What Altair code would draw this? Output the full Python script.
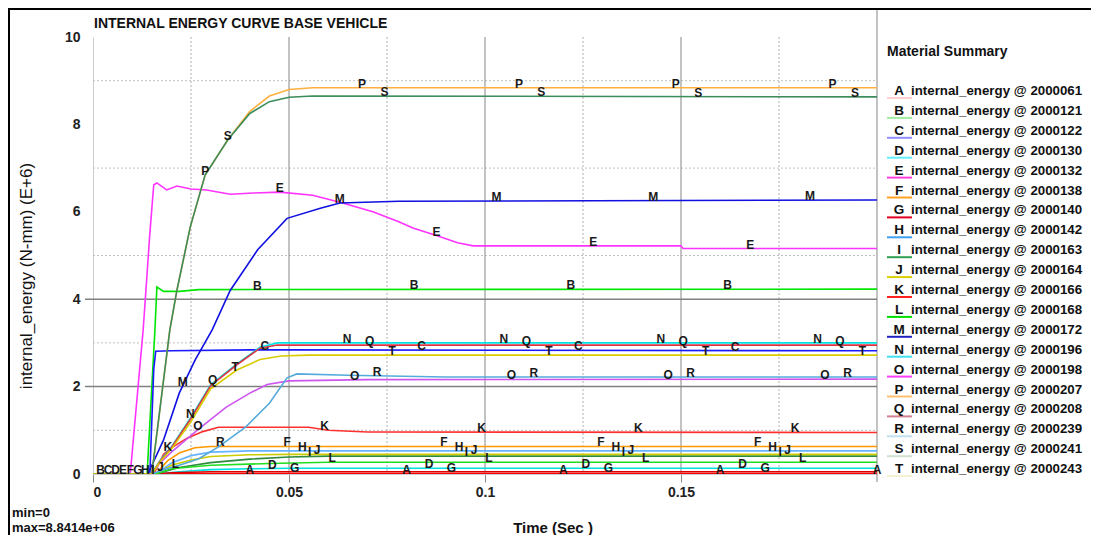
import altair as alt
import numpy as np
import pandas as pd

FONT = "Liberation Sans"

LETTERS = list("ABCDEFGHIJKLMNOPQRST")
PART_IDS = ["2000061", "2000121", "2000122", "2000130", "2000132", "2000138",
            "2000140", "2000142", "2000163", "2000164", "2000166", "2000168",
            "2000172", "2000196", "2000198", "2000207", "2000208", "2000239",
            "2000241", "2000243"]
LINE_COLORS = ["#ff0000", "#00e600", "#1a1aff", "#00e0e0", "#ff33ff", "#ff9900",
               "#dd0000", "#66b3ff", "#2e8b3e", "#cccc00", "#ff3030", "#22dd22",
               "#1010e0", "#00e5e5", "#cc55ee", "#ffb040", "#dd3344", "#55aadd",
               "#3c8c5c", "#d8cc00"]
LEGEND_COLORS = ["#ffd0d0", "#a0f0a0", "#9090ff", "#60f0ff", "#ff40e0", "#ffa020",
                 "#e00020", "#40a0f0", "#30a050", "#d8d000", "#ff2020", "#00e000",
                 "#2020c0", "#40e0f0", "#ff40ff", "#ffc070", "#d08090", "#c0e0f0",
                 "#d0e0d0", "#f4f0d0"]

# time (s) and internal energy (E+6 N-mm)
T_A = [0, 0.0155, 0.02, 0.2]
V_A = [0, 0, 0.01, 0.01]
T_B = [0, 0.0138, 0.0158, 0.0163, 0.018, 0.022, 0.027, 0.2]
V_B = [0, 0, 3.3, 4.28, 4.18, 4.18, 4.22, 4.23]
T_C = [0, 0.0145, 0.0155, 0.016, 0.02, 0.04, 0.05, 0.2]
V_C = [0, 0, 2.4, 2.81, 2.82, 2.84, 2.84, 2.82]
T_D = [0, 0.016, 0.022, 0.03, 0.04, 0.05, 0.2]
V_D = [0, 0, 0.05, 0.1, 0.12, 0.13, 0.13]
T_E = [0, 0.0095, 0.0128, 0.0145, 0.0155, 0.0163, 0.0188, 0.0214, 0.025, 0.029,
       0.035, 0.041, 0.0477, 0.056, 0.063, 0.0714, 0.078, 0.0816, 0.0878, 0.093,
       0.097, 0.15, 0.1505, 0.2]
V_E = [0, 0, 3.3, 5.5, 6.62, 6.66, 6.5, 6.59, 6.52, 6.5, 6.4, 6.43, 6.45, 6.38,
       6.22, 6.0, 5.77, 5.63, 5.45, 5.29, 5.22, 5.22, 5.16, 5.16]
T_F = [0, 0.016, 0.019, 0.022, 0.026, 0.03, 0.2]
V_F = [0, 0, 0.3, 0.48, 0.6, 0.63, 0.63]
T_G = [0, 0.0155, 0.02, 0.03, 0.2]
V_G = [0, 0, 0.03, 0.05, 0.05]
T_H = [0, 0.016, 0.02, 0.025, 0.03, 0.04, 0.2]
V_H = [0, 0, 0.25, 0.42, 0.5, 0.53, 0.53]
T_I = [0, 0.016, 0.022, 0.03, 0.04, 0.05, 0.06, 0.2]
V_I = [0, 0, 0.15, 0.26, 0.34, 0.39, 0.41, 0.41]
T_J = [0, 0.016, 0.02, 0.025, 0.03, 0.04, 0.05, 0.2]
V_J = [0, 0, 0.2, 0.32, 0.4, 0.44, 0.45, 0.45]
T_K = [0, 0.0155, 0.018, 0.02, 0.024, 0.028, 0.032, 0.055, 0.06, 0.07, 0.2]
V_K = [0, 0, 0.45, 0.6, 0.82, 0.97, 1.07, 1.07, 1.0, 0.96, 0.95]
T_L = [0, 0.016, 0.02, 0.03, 0.045, 0.06, 0.2]
V_L = [0, 0, 0.12, 0.2, 0.24, 0.27, 0.27]
T_M = [0, 0.014, 0.018, 0.022, 0.026, 0.0304, 0.035, 0.042, 0.0495, 0.058,
       0.063, 0.078, 0.2]
V_M = [0, 0, 0.78, 1.85, 2.6, 3.3, 4.2, 5.13, 5.85, 6.08, 6.2, 6.24, 6.27]
T_N = [0, 0.015, 0.017, 0.02, 0.025, 0.03, 0.0367, 0.0426, 0.047, 0.2]
V_N = [0, 0, 0.3, 0.62, 1.3, 2.04, 2.52, 2.9, 3.0, 3.0]
T_O = [0, 0.015, 0.017, 0.02, 0.027, 0.034, 0.04, 0.0444, 0.05, 0.07, 0.2]
V_O = [0, 0, 0.25, 0.5, 1.03, 1.53, 1.85, 2.05, 2.13, 2.16, 2.17]
T_P = [0, 0.015, 0.0196, 0.0214, 0.0248, 0.0286, 0.0344, 0.04, 0.045, 0.05,
       0.056, 0.2]
V_P = [0, 0, 3.3, 4.2, 5.65, 6.84, 7.65, 8.3, 8.65, 8.8, 8.84, 8.84]
T_Q = [0, 0.015, 0.017, 0.02, 0.025, 0.03, 0.0367, 0.0426, 0.047, 0.2]
V_Q = [0, 0, 0.28, 0.6, 1.27, 2.02, 2.5, 2.88, 2.95, 2.95]
T_R = [0, 0.015, 0.018, 0.022, 0.027, 0.032, 0.039, 0.045, 0.0495, 0.052,
       0.065, 0.09, 0.2]
V_R = [0, 0, 0.1, 0.2, 0.35, 0.62, 1.08, 1.62, 2.2, 2.29, 2.26, 2.22, 2.22]
T_S = [0, 0.015, 0.0196, 0.0214, 0.0248, 0.0286, 0.0344, 0.04, 0.045, 0.05,
       0.056, 0.2]
V_S = [0, 0, 3.3, 4.2, 5.65, 6.84, 7.65, 8.25, 8.52, 8.62, 8.65, 8.63]
T_T = [0, 0.015, 0.017, 0.02, 0.025, 0.03, 0.0367, 0.0426, 0.048, 0.055, 0.2]
V_T = [0, 0, 0.27, 0.57, 1.2, 1.95, 2.38, 2.62, 2.7, 2.72, 2.72]

SERIES = [
    ("A", T_A, V_A), ("B", T_B, V_B), ("C", T_C, V_C), ("D", T_D, V_D),
    ("E", T_E, V_E), ("F", T_F, V_F), ("G", T_G, V_G), ("H", T_H, V_H),
    ("I", T_I, V_I), ("J", T_J, V_J), ("K", T_K, V_K), ("L", T_L, V_L),
    ("M", T_M, V_M), ("N", T_N, V_N), ("O", T_O, V_O), ("P", T_P, V_P),
    ("Q", T_Q, V_Q), ("R", T_R, V_R), ("S", T_S, V_S), ("T", T_T, V_T),
]

# curve-letter placement along each curve (every 0.04 s, shifted per curve)
LABEL_STEP = 0.04
LABEL_SHIFT = 0.00191

X_TICKS = [0, 0.05, 0.1, 0.15]
Y_TICKS = [0, 2, 4, 6, 8, 10]
GRID_X_MAJOR = [0.05, 0.1, 0.15]
GRID_X_MINOR = [0.025, 0.075, 0.125, 0.175]
GRID_Y_MAJOR = [2, 4]
GRID_Y_MINOR = [1, 3, 5, 7, 9]
X_MAX = 0.2

W, H = 784, 437

rows = []
for i, (lt, ts, vs) in enumerate(SERIES):
    for t, v in zip(ts, vs):
        rows.append({"letter": lt, "t": t, "v": v, "ord": i})
df_lines = pd.DataFrame(rows)

lab_rows = []
for i, (lt, ts, vs) in enumerate(SERIES):
    for k in range(6):
        t = LABEL_STEP * k + LABEL_SHIFT * i
        if 0 < t <= X_MAX + 1e-9:
            lab_rows.append({"letter": lt, "t": t, "v": float(np.interp(t, ts, vs))})
df_labels = pd.DataFrame(lab_rows)

X_AX = alt.Axis(values=X_TICKS, format="~g", title=None, grid=False,
                labelFont=FONT, labelFontSize=14, labelFontWeight="bold",
                labelColor="#222222", tickSize=8, tickColor="#8a8a8a",
                labelPadding=3, domainColor="#cccccc")
Y_AX = alt.Axis(values=Y_TICKS, format="d", title=None, grid=False,
                labelFont=FONT, labelFontSize=14, labelFontWeight="bold",
                labelColor="#222222", tickSize=8, tickColor="rgba(0,0,0,0)",
                labelPadding=5, domainColor="#cccccc")
X_ENC = alt.X("t:Q", scale=alt.Scale(domain=[0, X_MAX], nice=False, zero=False), axis=X_AX)
Y_ENC = alt.Y("v:Q", scale=alt.Scale(domain=[0, 10], nice=False), axis=Y_AX)

lines = alt.Chart(df_lines).mark_line(strokeWidth=1.6, clip=True).encode(
    x=X_ENC, y=Y_ENC,
    color=alt.Color("letter:N", scale=alt.Scale(domain=LETTERS, range=LINE_COLORS), legend=None),
    detail="letter:N",
)

gx_major = alt.Chart(pd.DataFrame({"t": GRID_X_MAJOR})).mark_rule(
    color="#9a9a9a", strokeWidth=1.2).encode(x=X_ENC, y=alt.value(0), y2=alt.value(H))
gx_minor = alt.Chart(pd.DataFrame({"t": GRID_X_MINOR})).mark_rule(
    color="#b0b0b0", strokeWidth=1, strokeDash=[2, 2]).encode(x=X_ENC, y=alt.value(0), y2=alt.value(H))
gx_right = alt.Chart(pd.DataFrame({"t": [X_MAX]})).mark_rule(
    color="#9a9a9a", strokeWidth=1.2).encode(x=X_ENC, y=alt.value(-29), y2=alt.value(H + 8))
gy_major = alt.Chart(pd.DataFrame({"v": GRID_Y_MAJOR})).mark_rule(
    color="#808080", strokeWidth=1.5).encode(y=Y_ENC, x=alt.value(-8), x2=alt.value(W))
gy_minor = alt.Chart(pd.DataFrame({"v": GRID_Y_MINOR})).mark_rule(
    color="#c0c0c0", strokeWidth=1, strokeDash=[2, 2]).encode(y=Y_ENC, x=alt.value(0), x2=alt.value(W))

labels = alt.Chart(df_labels).mark_text(
    font=FONT, fontSize=12, fontWeight="bold", color="#1a1a1a",
    baseline="alphabetic", align="center").encode(x=X_ENC, y=Y_ENC, text="letter:N")

one = pd.DataFrame({"a": [0]})
border_left = alt.Chart(one).mark_rule(color="#000000", strokeWidth=2).encode(
    x=alt.value(-84), y=alt.value(-29), y2=alt.value(H + 61))
border_top = alt.Chart(one).mark_rule(color="#000000", strokeWidth=2).encode(
    y=alt.value(-28), x=alt.value(-85), x2=alt.value(W + 214))


def text_layer(s, x, y, size=14, weight="bold", align="left", angle=0, baseline="middle"):
    kw = dict(font=FONT, fontSize=size, fontWeight=weight, color="#111111",
              align=align, baseline=baseline)
    if angle:
        kw["angle"] = angle
    return alt.Chart(pd.DataFrame({"s": [s]})).mark_text(**kw).encode(
        x=alt.value(x), y=alt.value(y), text="s:N")


title = text_layer("INTERNAL ENERGY CURVE BASE VEHICLE", 1, -13)
ytitle = text_layer("internal_energy (N-mm) (E+6)", -66, 239, size=17, weight="normal",
                    align="center", angle=270)
xtitle = text_layer("Time (Sec )", 460, 491, size=15, align="center")
min_txt = text_layer("min=0", -81, 480, size=13, baseline="alphabetic")
max_txt = text_layer("max=8.8414e+06", -81, 494.5, size=13, baseline="alphabetic")
leg_title = text_layer("Material Summary", 794, 15)

ROW0, ROW_STEP = 54, 19.9
leg = pd.DataFrame({
    "letter": LETTERS,
    "txt": ["internal_energy @ " + p for p in PART_IDS],
    "ucol": LEGEND_COLORS,
})
leg["ly"] = ROW0 + ROW_STEP * np.arange(len(LETTERS))
leg["uy"] = leg["ly"] + 7
leg["lx"] = 806
leg["tx"] = 818
leg["ux0"] = 794
leg["ux1"] = 819

leg_under = alt.Chart(leg).mark_rule(strokeWidth=2).encode(
    x=alt.X("ux0:Q", scale=None), x2="ux1:Q",
    y=alt.Y("uy:Q", scale=None), color=alt.Color("ucol:N", scale=None))
leg_letter = alt.Chart(leg).mark_text(
    font=FONT, fontSize=13.5, fontWeight="bold", color="#111111", align="center",
    baseline="middle").encode(
    x=alt.X("lx:Q", scale=None), y=alt.Y("ly:Q", scale=None), text="letter:N")
leg_text = alt.Chart(leg).mark_text(
    font=FONT, fontSize=13.3, fontWeight="bold", color="#111111", align="left",
    baseline="middle").encode(
    x=alt.X("tx:Q", scale=None), y=alt.Y("ly:Q", scale=None), text="txt:N")

chart = alt.layer(
    gy_minor, gx_minor, gx_major, gx_right, gy_major,
    lines, labels,
    border_left, border_top, title, ytitle, xtitle, min_txt, max_txt,
    leg_title, leg_under, leg_letter, leg_text,
).properties(
    width=W, height=H,
    autosize=alt.AutoSizeParams(type="none"),
    padding={"left": 85, "top": 29, "right": 214, "bottom": 61},
    background="white",
).configure_view(stroke=None)

chart.save("out.html", embed_options={"renderer": "svg", "actions": False})
